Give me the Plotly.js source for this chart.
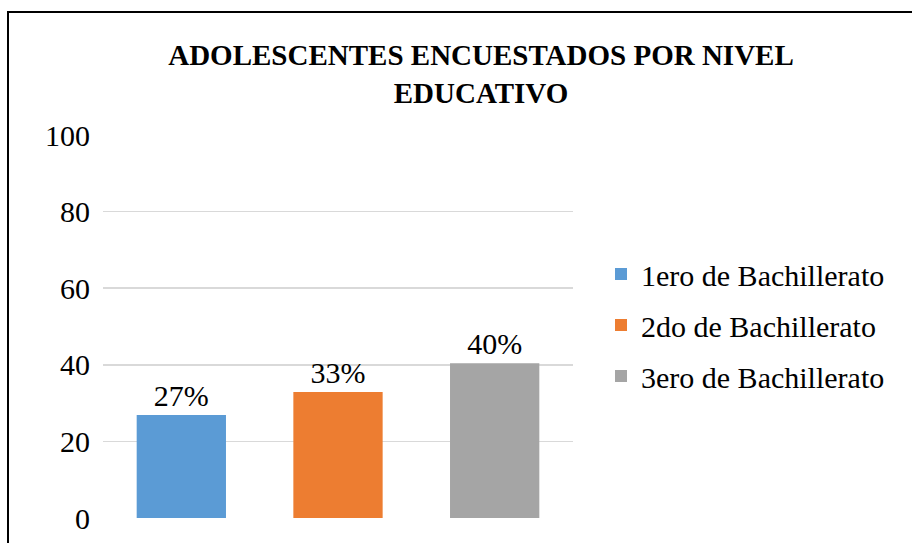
<!DOCTYPE html>
<html>
<head>
<meta charset="utf-8">
<script src="https://cdn.plot.ly/plotly-3.0.1.min.js"></script>
<style>
  html, body { margin: 0; padding: 0; background: #fff; }
  #wrap { position: relative; width: 912px; height: 543px; overflow: hidden; }
  #chart { width: 912px; height: 543px; }
  #frame { position: absolute; left: 7px; top: 11px; width: 930px; height: 570px;
           border: 2px solid #000; box-sizing: border-box; pointer-events: none; }
</style>
</head>
<body>
<div id="wrap">
  <div id="chart"></div>
  <div id="frame"></div>
</div>
<script>
const categories = ['1ero de Bachillerato', '2do de Bachillerato', '3ero de Bachillerato'];
const values = [26.9, 32.9, 40.4];
const labels = ['27%', '33%', '40%'];
const colors = ['#5b9bd5', '#ed7d31', '#a5a5a5'];
const yTicks = [0, 20, 40, 60, 80, 100];

const FONT = '"Liberation Serif", "Times New Roman", serif';

const traces = categories.map((c, i) => ({
  type: 'bar',
  name: c,
  legendgroup: 'g' + i,
  x: [c],
  y: [values[i]],
  text: [labels[i]],
  textposition: 'outside',
  textfont: { family: FONT, size: 30, color: '#000' },
  cliponaxis: false,
  width: 0.57,
  marker: { color: colors[i] },
  hoverinfo: 'none'
}));

const layout = {
  width: 912,
  height: 543,
  margin: { l: 103, r: 339, t: 135, b: 25 },
  paper_bgcolor: '#fff',
  plot_bgcolor: '#fff',
  barmode: 'overlay',
  font: { family: FONT, size: 30, color: '#000' },
  title: {
    text: 'ADOLESCENTES ENCUESTADOS POR NIVEL<br>EDUCATIVO',
    font: { family: FONT, size: 29, color: '#000', weight: 'bold' },
    xref: 'container', x: 481 / 912, xanchor: 'center',
    yref: 'container', y: 1 - 65 / 543, yanchor: 'top'
  },
  xaxis: {
    type: 'category',
    categoryorder: 'array',
    categoryarray: categories,
    range: [-0.5, 2.5],
    showticklabels: false,
    showgrid: false,
    zeroline: false,
    showline: false,
    ticks: ''
  },
  yaxis: {
    range: [0, 100],
    tickvals: yTicks,
    ticktext: yTicks.map(String),
    showgrid: true,
    gridcolor: '#d9d9d9',
    gridwidth: 1.5,
    zeroline: false,
    showline: false,
    ticks: '',
    ticklabelstandoff: 12,
    tickfont: { family: FONT, size: 30, color: '#000' }
  },
  showlegend: true,
  legend: {
    xref: 'container', x: 601 / 912, xanchor: 'left',
    yref: 'container', y: 1 - 325 / 543, yanchor: 'middle',
    font: { family: FONT, size: 30, color: '#000' },
    bgcolor: 'rgba(0,0,0,0)',
    traceorder: 'grouped',
    tracegroupgap: 9,
    itemclick: false,
    itemdoubleclick: false
  }
};

Plotly.newPlot('chart', traces, layout, { displayModeBar: false, staticPlot: true });
</script>
</body>
</html>
